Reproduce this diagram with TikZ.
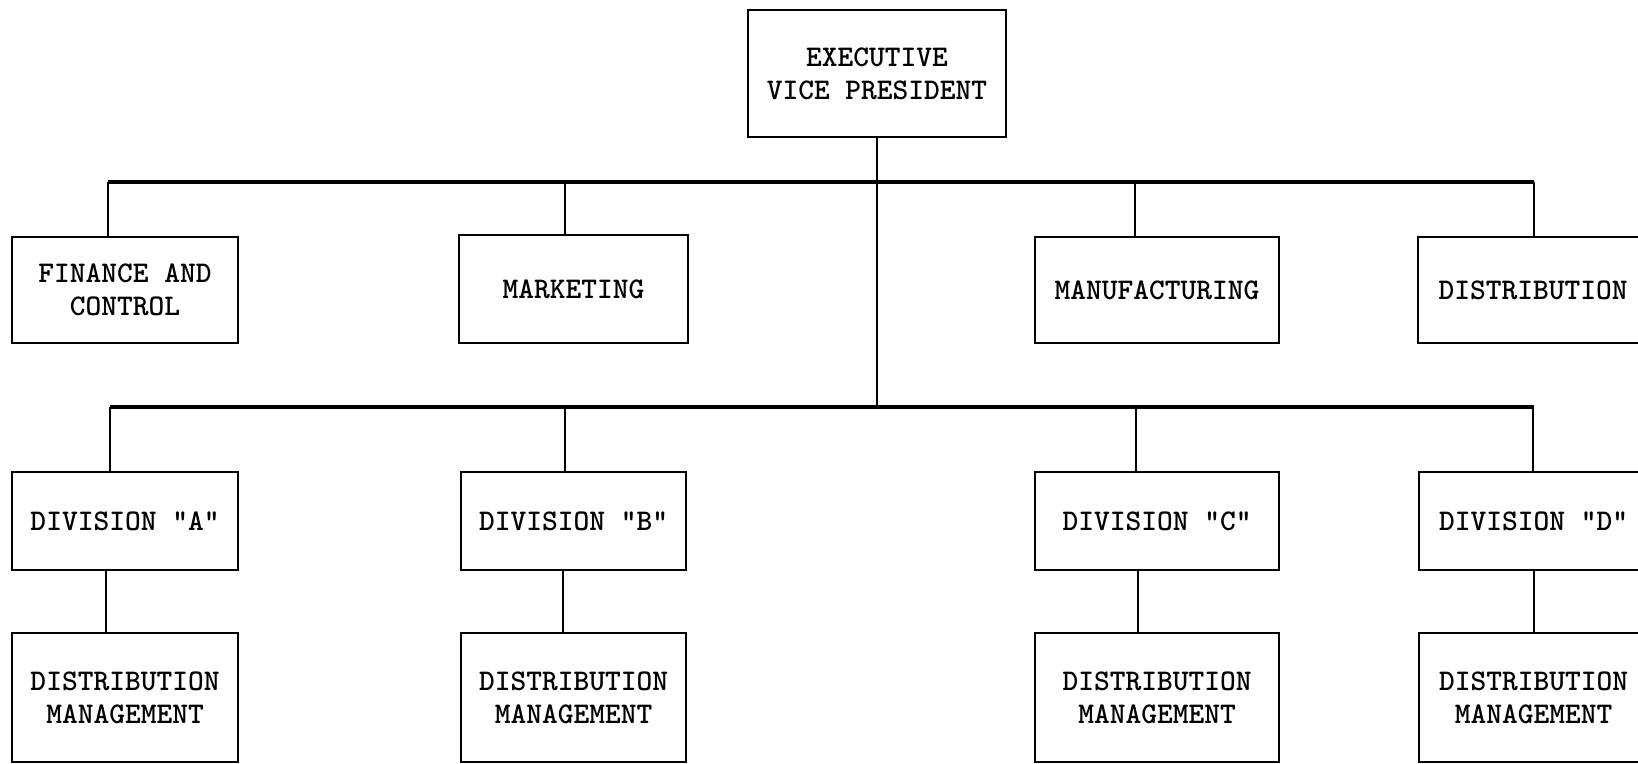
\documentclass[tikz,border=0pt]{standalone}
\usepackage{fontspec}
\newfontfamily\typew{lmmonolt10-bold.otf}
\begin{document}
\begin{tikzpicture}[x=0.5pt,y=-0.5pt,
  box/.style={draw,line width=1.4pt,inner sep=0pt,align=center,
    font=\typew\fontsize{15}{16.5}\selectfont},
  bus/.style={line width=1.6pt},
  stem/.style={line width=1pt}]
\useasboundingbox (0,0) rectangle (1638,764);
\clip (0,0) rectangle (1638,764);

\node[box,minimum width=129pt,minimum height=63.5pt] (evp) at (877,73.5) {EXECUTIVE\\VICE PRESIDENT};

\node[box,minimum width=113pt,minimum height=53pt] (fin) at (125,290) {FINANCE AND\\CONTROL};
\node[box,minimum width=114.5pt,minimum height=54pt] (mkt) at (573.5,289) {MARKETING};
\node[box,minimum width=122pt,minimum height=53pt] (mfg) at (1157,290) {MANUFACTURING};
\node[box,minimum width=115pt,minimum height=53pt] (dst) at (1533,290) {DISTRIBUTION};

\node[box,minimum width=113pt,minimum height=49pt] (divA) at (125,521) {DIVISION "A"};
\node[box,minimum width=112.5pt,minimum height=49pt] (divB) at (573.5,521) {DIVISION "B"};
\node[box,minimum width=122pt,minimum height=49pt] (divC) at (1157,521) {DIVISION "C"};
\node[box,minimum width=114.5pt,minimum height=49pt] (divD) at (1533.5,521) {DIVISION "D"};

\node[box,minimum width=113pt,minimum height=64.5pt] (dmA) at (125,697.5) {DISTRIBUTION\\MANAGEMENT};
\node[box,minimum width=112.5pt,minimum height=64.5pt] (dmB) at (573.5,697.5) {DISTRIBUTION\\MANAGEMENT};
\node[box,minimum width=122pt,minimum height=64.5pt] (dmC) at (1157,697.5) {DISTRIBUTION\\MANAGEMENT};
\node[box,minimum width=114.5pt,minimum height=64.5pt] (dmD) at (1533.5,697.5) {DISTRIBUTION\\MANAGEMENT};

% bus lines
\coordinate (t0) at (108,182); \coordinate (t1) at (1534,182);
\coordinate (b0) at (110,407); \coordinate (b1) at (1534,407);
\draw[bus] (t0) -- (t1);
\draw[bus] (b0) -- (b1);
\draw[stem] (evp.south) -- (evp.south |- b0);

\foreach \n/\x in {fin/108,mkt/565,mfg/1135,dst/1534}{
  \coordinate (t\n) at (\x,182);
  \draw[stem] (t\n) -- (t\n |- \n.north);}

\foreach \d/\x/\y in {A/110/106,B/565/563,C/1136/1138,D/1533/1534}{
  \coordinate (b\d) at (\x,407);
  \draw[stem] (b\d) -- (b\d |- div\d.north);
  \coordinate (m\d) at (\y,0);
  \draw[stem] (m\d |- div\d.south) -- (m\d |- dm\d.north);}
\end{tikzpicture}
\end{document}
